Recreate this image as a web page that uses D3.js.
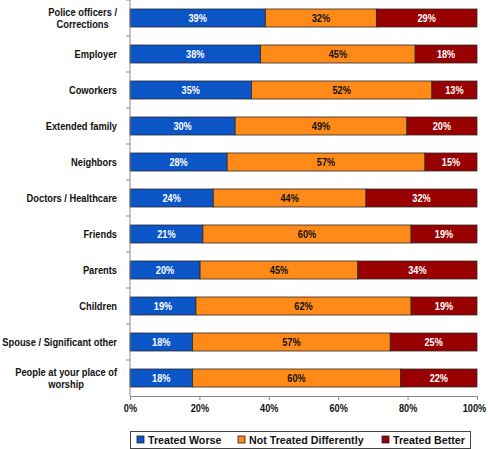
<!DOCTYPE html>
<html><head><meta charset="utf-8">
<script src="https://cdn.jsdelivr.net/npm/d3@7"></script>
<style>body{margin:0;background:#fff}svg{display:block}text{font-family:"Liberation Sans",Arial,sans-serif;font-weight:bold}</style>
</head><body><svg id="c" width="488" height="449"></svg>
<script>
const categories = [
  ["Police officers /","Corrections"],["Employer"],["Coworkers"],["Extended family"],["Neighbors"],
  ["Doctors / Healthcare"],["Friends"],["Parents"],["Children"],["Spouse / Significant other"],
  ["People at your place of","worship"]
];
const seriesNames = ["Treated Worse","Not Treated Differently","Treated Better"];
const treatedWorse = [39,38,35,30,28,24,21,20,19,18,18];
const notDifferent = [32,45,52,49,57,44,60,45,62,57,60];
const treatedBetter = [29,18,13,20,15,32,19,34,19,25,22];
const xTicks = [0,0.2,0.4,0.6,0.8,1];
const colors = ["#0b55c6","#ff8a18","#990000"];
const labelColors = ["#fff","#111","#fff"];

const rows = categories.map((c,i)=>({key:i, tw:treatedWorse[i], nd:notDifferent[i], tb:treatedBetter[i]}));
const keys = ["tw","nd","tb"];
const stack = d3.stack().keys(keys).offset(d3.stackOffsetExpand)(rows);

const svg = d3.select("#c");
const L=130, R=477, T=0, B=396;
const x = d3.scaleLinear().domain([0,1]).range([L,R]);
const y = d3.scaleBand().domain(d3.range(categories.length)).range([T,B]).paddingInner(0.5).paddingOuter(0.25);

// bars
stack.forEach((s,si)=>{
  const g = svg.append("g");
  g.selectAll("rect").data(s).join("rect")
    .attr("x",d=>x(d[0])).attr("y",(d,i)=>y(i))
    .attr("width",d=>x(d[1])-x(d[0])).attr("height",y.bandwidth())
    .attr("fill",colors[si]).attr("stroke","#2a2a2a").attr("stroke-width",0.8);
  g.selectAll("text").data(s).join("text")
    .attr("transform",(d,i)=>`translate(${(x(d[0])+x(d[1]))/2},${y(i)+y.bandwidth()/2+3.6}) scale(0.92,1)`)
    .attr("text-anchor","middle").attr("font-size","10px").attr("fill",labelColors[si])
    .text((d,i)=>d.data[keys[si]]+"%");
});

// y axis line and ticks
const step = y.step();
svg.append("line").attr("x1",L).attr("x2",L).attr("y1",T).attr("y2",B).attr("stroke","#888").attr("stroke-width",1);
svg.append("g").selectAll("line").data(d3.range(categories.length)).join("line")
  .attr("x1",L-4).attr("x2",L).attr("y1",i=>y(i)-step*0.25).attr("y2",i=>y(i)-step*0.25)
  .attr("stroke","#888");

// category labels
const lab = svg.append("g");
categories.forEach((lines,i)=>{
  const cy = y(i)+y.bandwidth()/2;
  const n = lines.length, lh = 12.5;
  const g = lab.append("g");
  const ts = lines.map((t,j)=>g.append("text").attr("font-size","10.7px").attr("fill","#111")
      .attr("text-anchor", n>1?"middle":"end")
      .attr("y", cy - (n-1)*lh/2 + j*lh + 3.8).text(t));
  if(n>1){
    const w = d3.max(ts,t=>t.node().getComputedTextLength())*0.87;
    ts.forEach(t=>t.attr("transform",`translate(${117-w/2},0) scale(0.87,1)`));
  } else {
    ts.forEach(t=>t.attr("transform",`translate(117,0) scale(0.87,1)`));
  }
});

// x axis
const xa = svg.append("g").attr("transform",`translate(0,${B})`)
  .call(d3.axisBottom(x).tickValues(xTicks).tickFormat(d3.format(".0%")).tickSize(4).tickSizeOuter(0));
xa.select(".domain").attr("stroke","#888");
xa.selectAll(".tick line").attr("stroke","#888");
xa.selectAll(".tick text").attr("font-size","10px").attr("fill","#111").attr("dy","0.9em")
  .attr("font-family",null).attr("font-weight","bold")
  .attr("transform",d=> d===1 ? "translate(-3,0) scale(0.92,1)" : "scale(0.92,1)");

// legend
const lg = svg.append("g");
lg.append("rect").attr("x",130.5).attr("y",431.5).attr("width",340).attr("height",17)
  .attr("fill","#fff").attr("stroke","#444").attr("stroke-width",1);
const legX = [137,238,382];
seriesNames.forEach((s,i)=>{
  lg.append("rect").attr("x",legX[i]).attr("y",436).attr("width",7).attr("height",7)
    .attr("fill",colors[i]).attr("stroke","#222").attr("stroke-width",0.8);
  lg.append("text").attr("transform",`translate(${legX[i]+11},444) scale(0.93,1)`)
    .attr("font-size","11.5px").attr("fill","#111").text(s);
});
</script></body></html>
